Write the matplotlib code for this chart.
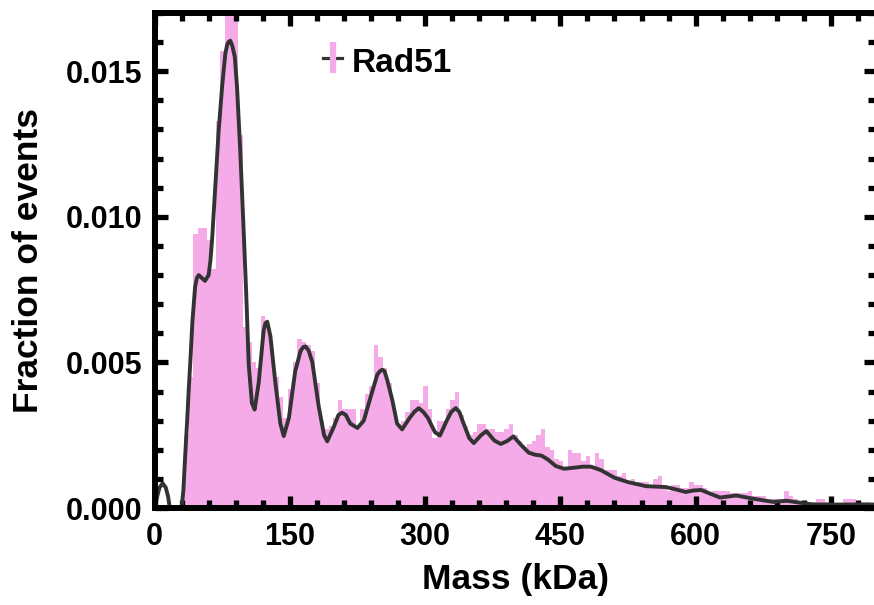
import numpy as np
import matplotlib
matplotlib.use('Agg')
import matplotlib.pyplot as plt

plt.rcParams['font.family'] = ['Liberation Sans', 'DejaVu Sans']
plt.rcParams['font.weight'] = 'bold'

# histogram: 5 kDa bins starting at 33 kDa
bin_start = 33
bin_width = 5
fraction = [
    0.0025, 0.0045, 0.0094, 0.0096, 0.0096, 0.0092, 0.0082, 0.0133, 0.0157, 0.0175,
    0.0178, 0.0172, 0.0128, 0.0062, 0.0057, 0.0050, 0.0048, 0.0066, 0.0062, 0.0055,
    0.0045, 0.0038, 0.0031, 0.0041, 0.0050, 0.0058, 0.0057, 0.0056, 0.0054, 0.0043,
    0.0030, 0.0027, 0.0028, 0.0031, 0.0037, 0.0034, 0.0034, 0.0034, 0.0028, 0.0034,
    0.0039, 0.0042, 0.0056, 0.0052, 0.0048, 0.0043, 0.0034, 0.0029, 0.0030, 0.0033,
    0.0037, 0.0037, 0.0036, 0.0042, 0.0034, 0.0024, 0.0030, 0.0030, 0.0034, 0.0037,
    0.0040, 0.0032, 0.0028, 0.0025, 0.0026, 0.0029, 0.0029, 0.0027, 0.0027, 0.0026,
    0.0026, 0.0027, 0.0029, 0.0025, 0.0023, 0.0021, 0.0022, 0.0023, 0.0025, 0.0027,
    0.0021, 0.0020, 0.0017, 0.0016, 0.0014, 0.0020, 0.0019, 0.0019, 0.0016, 0.0018,
    0.0014, 0.0019, 0.0017, 0.0013, 0.0013, 0.0013, 0.0011, 0.0012, 0.0009, 0.0010,
    0.0009, 0.0009, 0.0009, 0.0007, 0.0010, 0.0011, 0.0007, 0.0006, 0.0008, 0.0008,
    0.0007, 0.0007, 0.0009, 0.0008, 0.0008, 0.0007, 0.0005, 0.0006, 0.0006, 0.0006,
    0.0006, 0.0005, 0.0005, 0.0005, 0.0005, 0.0006, 0.0004, 0.0004, 0.0004, 0.0003,
    0.0003, 0.0003, 0.0003, 0.0006, 0.0004, 0.0003, 0.0002, 0.0002, 0.00015, 0.0002,
    0.0003, 0.0003, 0.0002, 0.0002, 0.0001, 0.0001, 0.0003, 0.0003, 0.0003, 0.0002,
    0.0002, 0.0002, 0.0001,
]

# fitted curve (kDa, fraction)
fit_mass = [
    0.5, 3, 5.5, 9, 12.5, 15, 17, 30, 32, 34, 36, 38, 40, 42, 45, 47, 49, 52.5, 56, 60,
    62, 64, 67.5, 71, 75, 78.5, 80.5, 82, 84, 86, 89, 91.5, 95, 99, 101.5, 104.5, 108,
    111, 115.5, 121, 123, 125, 128.5, 134, 139.5, 143.3, 149, 156, 162, 165, 167.5,
    171, 175, 182, 188, 191.5, 199, 204, 208, 212, 217, 225, 232, 239.5, 247, 250,
    252.6, 255, 258, 263.7, 269, 274.5, 283, 288, 293, 298, 303, 311, 316.5, 324, 329,
    334, 338, 341.5, 349, 354, 362, 368, 376.7, 384, 391, 398, 406, 415, 422, 429, 436,
    445, 454, 464, 475, 484, 495, 510, 525, 545, 567, 578, 589, 597, 606, 614, 627,
    645, 664, 686, 701, 716, 730, 760, 798,
]
fit_frac = [
    0, 0.0004, 0.0007, 0.00085, 0.0007, 0.0004, 0, 0, 0.0006, 0.0018, 0.0029, 0.0041,
    0.0052, 0.0064, 0.0076, 0.0079, 0.0080, 0.0079, 0.0078, 0.0080, 0.0085, 0.0093,
    0.0111, 0.0129, 0.0145, 0.0156, 0.0159, 0.0160, 0.01605, 0.0159, 0.0155, 0.01445,
    0.0123, 0.0094, 0.0075, 0.0049, 0.0036, 0.00338, 0.0043, 0.0061, 0.00635, 0.0064,
    0.0059, 0.0043, 0.0029, 0.00247, 0.0031, 0.0047, 0.0054, 0.00553, 0.00555, 0.0054,
    0.0050, 0.0035, 0.0025, 0.00229, 0.0028, 0.0032, 0.00327, 0.0032, 0.0029, 0.00275,
    0.0030, 0.0038, 0.00458, 0.0047, 0.00475, 0.0047, 0.0044, 0.0037, 0.0029, 0.0027,
    0.0031, 0.0033, 0.00343, 0.0033, 0.0031, 0.0026, 0.00249, 0.0030, 0.0033, 0.00343,
    0.0033, 0.0030, 0.0024, 0.00223, 0.0025, 0.00264, 0.00232, 0.0022, 0.0023, 0.00246,
    0.00218, 0.0019, 0.00183, 0.0018, 0.00167, 0.00144, 0.00135, 0.00138, 0.00142,
    0.00142, 0.0013, 0.00104, 0.00089, 0.00075, 0.00072, 0.00064, 0.00055, 0.0006,
    0.00062, 0.00052, 0.00036, 0.00043, 0.00032, 0.00021, 0.00025, 0.00018, 0.00012,
    0.00012, 0.00012,
]

pink = '#F5ABE7'
dark = '#333333'

fig = plt.figure(figsize=(8.74, 6.05), dpi=100)
ax = fig.add_axes([0.1768, 0.1603, 0.8255, 0.8182])

edges = bin_start + bin_width * np.arange(len(fraction) + 1)
ax.stairs(fraction, edges, fill=True, color=pink, linewidth=0)
ax.plot(fit_mass, fit_frac, color=dark, lw=2.8, solid_joinstyle='round')

ax.set_xlim(0, 800)
ax.set_ylim(0, 0.017)
ax.set_xticks([0, 150, 300, 450, 600, 750])
ax.set_xticks(np.arange(0, 800, 30), minor=True)
ax.set_yticks([0, 0.005, 0.010, 0.015])
ax.set_yticklabels(['0.000', '0.005', '0.010', '0.015'])
ax.set_yticks(np.arange(0, 0.0171, 0.001), minor=True)

for s in ax.spines.values():
    s.set_linewidth(4.3)
ax.tick_params(which='both', direction='in', top=True, right=True, width=3.8)
ax.tick_params(which='major', length=9, labelsize=22)
ax.tick_params(which='minor', length=5.5)
ax.tick_params(axis='x', which='major', pad=10)
ax.tick_params(axis='y', which='major', pad=9)

ax.set_xlabel('Mass (kDa)', fontsize=25.5, fontweight='bold', labelpad=8)
ax.set_ylabel('Fraction of events', fontsize=25.5, fontweight='bold', labelpad=15)

# legend: dark line crossed by a pink bar, then the label
ax.plot([0.2335, 0.2599], [0.909, 0.909], color=dark, lw=2.3, transform=ax.transAxes, clip_on=False)
ax.plot([0.2467, 0.2467], [0.8788, 0.9414], color=pink, lw=4.5, solid_capstyle='butt',
        transform=ax.transAxes, clip_on=False)
ax.text(0.2737, 0.8808, 'Rad51', fontsize=24, fontweight='bold', va='baseline', ha='left',
        transform=ax.transAxes)

fig.savefig('out.png', dpi=100)
